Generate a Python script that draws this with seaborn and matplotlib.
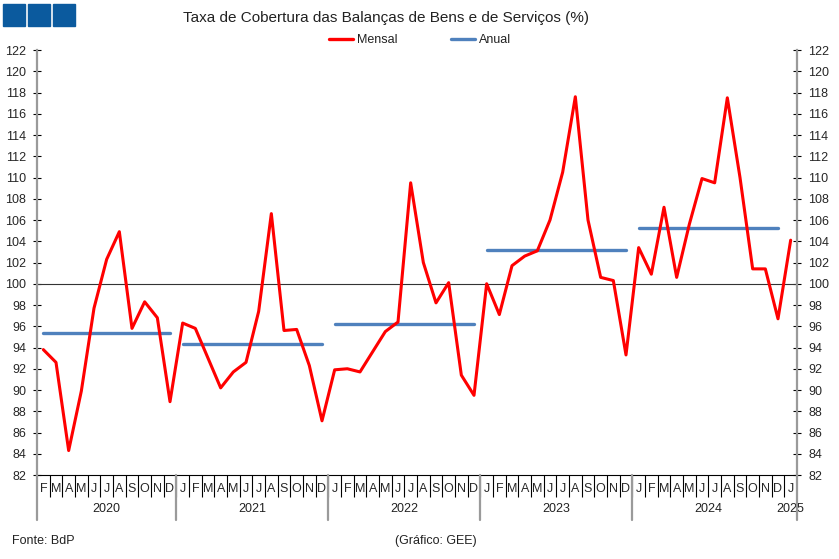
import numpy as np
import pandas as pd
import matplotlib
matplotlib.use("Agg")
import matplotlib.pyplot as plt
from matplotlib.lines import Line2D
from matplotlib.patches import Rectangle
import seaborn as sns

# Taxa de cobertura mensal, Fev 2020 .. Jan 2025
mensal_2020 = [93.8, 92.6, 84.3, 89.9, 97.7, 102.3, 104.9, 95.8, 98.3, 96.8, 88.9]
mensal_2021 = [96.3, 95.8, 93.0, 90.2, 91.7, 92.6, 97.4, 106.6, 95.6, 95.7, 92.3, 87.1]
mensal_2022 = [91.9, 92.0, 91.7, 93.6, 95.5, 96.4, 109.5, 102.0, 98.2, 100.1, 91.4, 89.5]
mensal_2023 = [100.0, 97.1, 101.7, 102.6, 103.1, 106.0, 110.5, 117.6, 106.0, 100.6, 100.3, 93.3]
mensal_2024 = [103.4, 100.9, 107.2, 100.6, 105.6, 109.9, 109.5, 117.5, 110.0, 101.4, 101.4, 96.7]
mensal_2025 = [104.1]

anos = ["2020", "2021", "2022", "2023", "2024", "2025"]
anual = [95.4, 94.35, 96.2, 103.2, 105.25, np.nan]

meses_2020 = list("FMAMJJASOND")
meses_ano = list("JFMAMJJASOND")
meses_2025 = ["J"]

mensal_por_ano = [mensal_2020, mensal_2021, mensal_2022, mensal_2023, mensal_2024, mensal_2025]
meses_por_ano = [meses_2020, meses_ano, meses_ano, meses_ano, meses_ano, meses_2025]

rows = []
pos = 0
for ano, vals, meses, a in zip(anos, mensal_por_ano, meses_por_ano, anual):
    for v, m in zip(vals, meses):
        rows.append({"pos": pos, "ano": ano, "mes": m, "mensal": v, "anual": a})
        pos += 1
df = pd.DataFrame(rows)

RED = "#ff0000"
BLUE = "#4f81bd"
GREY = "#9a9a9a"

sns.set_style("white")
plt.rcParams["font.family"] = ["Liberation Sans", "DejaVu Sans"]
plt.rcParams["text.color"] = "#222222"

fig = plt.figure(figsize=(8.39, 5.59), dpi=100)
ax = fig.add_axes([37 / 839, 1 - 475 / 559, 760 / 839, 425 / 559])

ax.axhline(100, color="#333333", lw=0.8, zorder=1)
sns.lineplot(data=df.dropna(subset=["anual"]), x="pos", y="anual", units="ano",
             estimator=None, color=BLUE, lw=2.4, ax=ax, zorder=2)
sns.lineplot(data=df, x="pos", y="mensal", color=RED, lw=2.2, ax=ax, zorder=3)

n = len(df)
ax.set_xlim(-0.5, n - 0.5)
ax.set_ylim(82, 122)
ax.set_yticks(np.arange(82, 123, 2))
ax.set_xlabel("")
ax.set_ylabel("")

ax.set_xticks(df["pos"])
ax.set_xticklabels(df["mes"], fontsize=9)
ax.set_xticks(np.arange(0.5, n - 1, 1), minor=True)
ax.tick_params(axis="x", which="major", length=0, pad=6, bottom=True)
ax.tick_params(axis="x", which="minor", length=16, width=0.8, color="black",
               direction="out", bottom=True)
ax.tick_params(axis="y", which="major", length=6, width=0.8, color="black", direction="inout",
               labelsize=9, left=True, right=True, labelleft=True, labelright=True, pad=5)

for s in ["left", "right"]:
    ax.spines[s].set_color(GREY)
    ax.spines[s].set_linewidth(1.6)
ax.spines["top"].set_visible(False)
ax.spines["bottom"].set_color("black")
ax.spines["bottom"].set_linewidth(0.8)

# separadores e rótulos dos anos
xt = ax.get_xaxis_transform()
start = 0
bounds = [-0.5]
for ano, meses in zip(anos, meses_por_ano):
    end = start + len(meses)
    bounds.append(end - 0.5)
    ax.text((start + end - 1) / 2, -0.08, ano, transform=xt, ha="center", va="center", fontsize=9)
    start = end
for b in bounds[:-2] + [bounds[-1]]:
    ax.plot([b, b], [0, -0.105], transform=xt, color=GREY, lw=1.6, clip_on=False, zorder=5)

handles = [Line2D([], [], color=RED, lw=2.4), Line2D([], [], color=BLUE, lw=2.4)]
fig.legend(handles, ["Mensal", "Anual"], loc="center", bbox_to_anchor=(420 / 839, 1 - 40 / 559),
           ncol=2, frameon=False, fontsize=9, handlelength=1.9, handletextpad=0.3, columnspacing=4.3)

fig.text(386 / 839, 1 - 18 / 559, "Taxa de Cobertura das Balanças de Bens e de Serviços (%)",
         ha="center", va="center", fontsize=11)
fig.text(12 / 839, 1 - 541 / 559, "Fonte: BdP", ha="left", va="center", fontsize=9)
fig.text(436 / 839, 1 - 541 / 559, "(Gráfico: GEE)", ha="center", va="center", fontsize=9)

for i in range(3):
    fig.patches.append(Rectangle(((3 + 25 * i) / 839, 1 - 26 / 559), 22 / 839, 22 / 559,
                                 transform=fig.transFigure, color="#0b5a9e", figure=fig))

fig.savefig("out.png", dpi=100)
